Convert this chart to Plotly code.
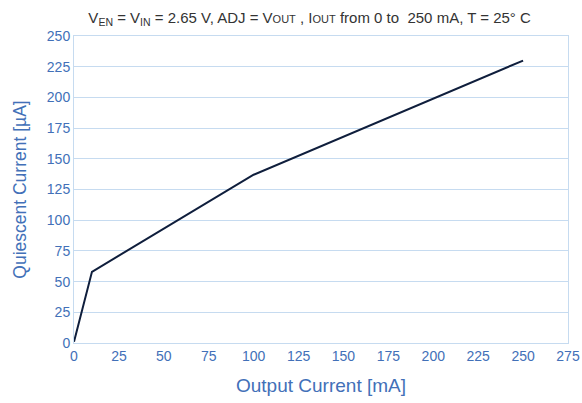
import plotly.graph_objects as go

output_current_mA = [0, 10, 100, 250]
quiescent_current_uA = [1, 58, 137, 230]
x_ticks = list(range(0, 276, 25))
y_ticks = list(range(0, 251, 25))

blue = "#4270b8"
grid = "#c6dbf0"

fig = go.Figure()
fig.add_trace(go.Scatter(x=output_current_mA, y=quiescent_current_uA, mode="lines",
                         line=dict(color="#0f1e3c", width=2)))

title = ("V<sub>EN</sub> = V<sub>IN</sub> = 2.65 V, ADJ = V<span style='font-size:11px'>OUT</span> , "
         "I<span style='font-size:11px'>OUT</span> from 0 to  250 mA, T = 25° C")

fig.update_layout(
    width=582, height=403,
    margin=dict(l=74, r=14, t=36, b=60, autoexpand=False),
    paper_bgcolor="white", plot_bgcolor="white",
    showlegend=False,
    font=dict(family="Liberation Sans, Arial", color=blue),
    title=dict(text=title, x=0.532, xanchor="center", y=0.97, yanchor="top",
               font=dict(size=15, color="#333333")),
    xaxis=dict(range=[0, 275], tickvals=x_ticks, showgrid=False, automargin=False,
               showline=True, linecolor=grid, mirror=True, zeroline=False,
               ticks="", tickfont=dict(size=14, color=blue),
               title=dict(text="Output Current [mA]", font=dict(size=19, color=blue))),
    yaxis=dict(range=[0, 250], tickvals=y_ticks, showgrid=True, gridcolor=grid, automargin=False,
               showline=True, linecolor=grid, mirror=True, zeroline=False,
               ticks="", tickfont=dict(size=14, color=blue),
               title=dict(text="Quiescent Current [µA]", font=dict(size=17.5, color=blue))),
)

fig.write_html("out.html", config={"displayModeBar": False},
               post_script="document.body.style.margin='0';document.body.style.overflow='hidden';")
